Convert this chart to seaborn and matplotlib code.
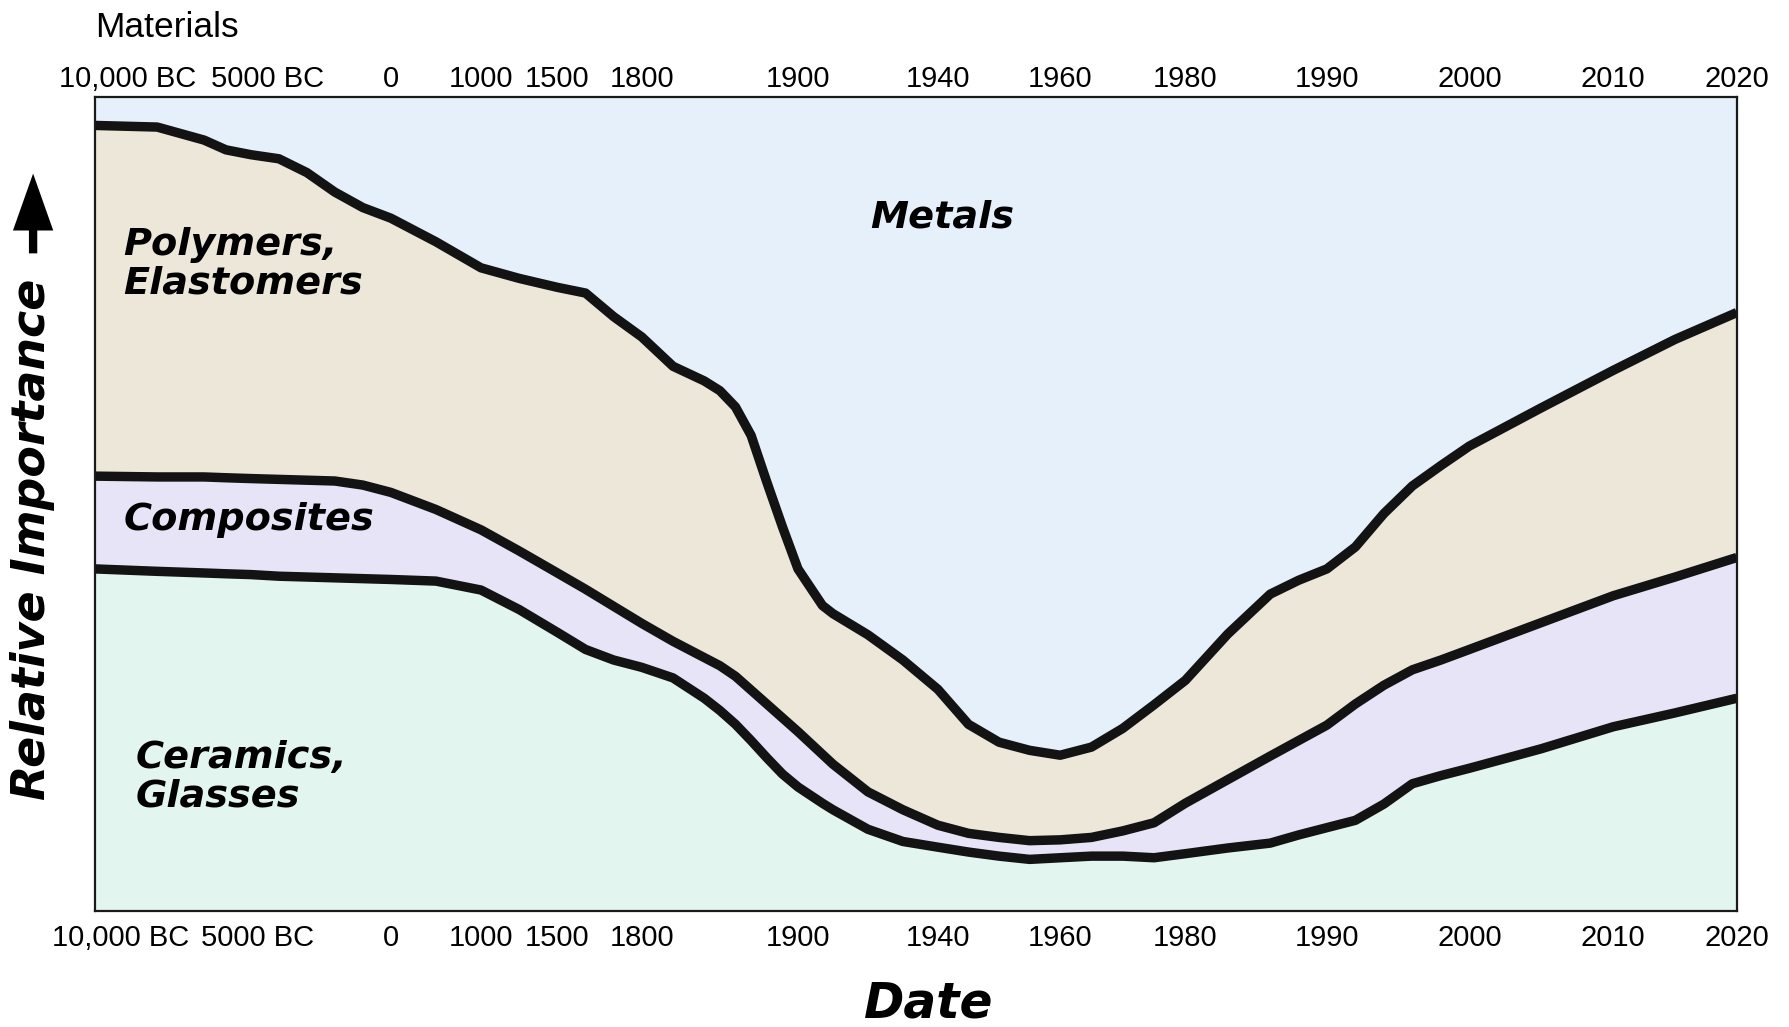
import numpy as np
import matplotlib
matplotlib.use("Agg")
import matplotlib.pyplot as plt
import matplotlib.transforms as mtransforms
import seaborn as sns

# axis: labelled dates and where each one sits along the (non-linear) date axis
tick_years = [-10000, -5000, 0, 1000, 1500, 1800, 1900, 1940, 1960, 1980, 1990, 2000, 2010, 2020]
tick_labels = ['10,000 BC', '5000 BC', '0', '1000', '1500', '1800', '1900',
               '1940', '1960', '1980', '1990', '2000', '2010', '2020']
tick_frac = [0.0, 0.0952, 0.1804, 0.2353, 0.2818, 0.3332, 0.4283,
             0.5135, 0.5880, 0.6642, 0.7504, 0.8372, 0.9248, 1.0]

# relative importance (stacked, 0-100), upper edge of each band
years = [-10000, -8000, -6500, -5800, -5000, -4000, -3000, -2000, -1000, 0,
         500, 1000, 1250, 1500, 1600, 1700, 1800, 1820, 1840, 1850,
         1860, 1870, 1880, 1890, 1900, 1907, 1910, 1920, 1930, 1940,
         1945, 1950, 1955, 1960, 1965, 1970, 1975, 1980, 1983, 1986,
         1988, 1990, 1992, 1994, 1996, 1998, 2000, 2005, 2010, 2015, 2020]

ceramics_top = [42.0, 41.7, 41.5, 41.4, 41.3, 41.1, 41.0, 40.9, 40.8, 40.7,
                40.5, 39.4, 37.0, 34.2, 32.1, 30.8, 29.9, 28.6, 26.1, 24.6,
                22.9, 20.9, 18.8, 16.8, 15.2, 13.2, 12.4, 10.0, 8.5, 7.8,
                7.2, 6.7, 6.3, 6.5, 6.7, 6.7, 6.5, 7.0, 7.7, 8.3,
                9.3, 10.2, 11.1, 13.1, 15.6, 16.6, 17.5, 19.9, 22.6, 24.3, 26.1]

composites_top = [53.4, 53.3, 53.3, 53.2, 53.1, 53.0, 52.9, 52.8, 52.3, 51.4,
                  49.3, 46.8, 44.2, 41.5, 39.5, 37.4, 35.3, 33.1, 31.1, 30.1,
                  28.8, 27.1, 25.4, 23.7, 22.0, 19.2, 18.0, 14.6, 12.4, 10.5,
                  9.5, 9.0, 8.6, 8.7, 9.0, 9.8, 10.8, 13.2, 16.1, 19.0,
                  20.9, 22.8, 25.4, 27.7, 29.6, 30.8, 32.1, 35.4, 38.7, 41.0, 43.4]

polymers_top = [96.5, 96.3, 94.7, 93.5, 92.9, 92.4, 90.7, 88.3, 86.4, 85.1,
                82.2, 79.0, 77.7, 76.6, 75.9, 73.0, 70.5, 66.9, 65.1, 63.9,
                61.9, 58.4, 52.7, 47.2, 42.0, 37.5, 36.5, 33.9, 30.8, 27.2,
                22.9, 20.7, 19.7, 19.1, 20.1, 22.4, 25.3, 28.3, 34.0, 38.9,
                40.6, 42.0, 44.7, 48.8, 52.2, 54.7, 57.1, 61.8, 66.4, 70.2, 73.5]

band_colors = ['#e2f6ef', '#e8e4f8', '#ede7da', '#e5f0fa']

sns.set_theme(style='white')
plt.rcParams['font.family'] = ['DejaVu Sans']
plt.rcParams['text.color'] = 'black'
plt.rcParams['xtick.color'] = 'black'
narrow = ['Liberation Sans', 'DejaVu Sans']

fig = plt.figure(figsize=(17.89, 10.27), dpi=100)
ax = fig.add_axes([0.0529, 0.1133, 0.9179, 0.7923])


def to_axis(x):
    return np.interp(x, tick_years, tick_frac)


def from_axis(p):
    return np.interp(p, tick_frac, tick_years)


ax.set_xscale('function', functions=(to_axis, from_axis))

n = len(years)
edges = [np.zeros(n), np.array(ceramics_top), np.array(composites_top),
         np.array(polymers_top), np.full(n, 100.0)]
for i in range(4):
    ax.fill_between(years, edges[i], edges[i + 1], color=band_colors[i], lw=0, zorder=1)

for edge in [ceramics_top, composites_top, polymers_top]:
    sns.lineplot(x=years, y=edge, ax=ax, color='#131313', lw=6.8, zorder=3,
                 solid_joinstyle='round', solid_capstyle='butt', legend=False)

ax.set_xlim(-10000, 2020)
ax.set_ylim(0, 100)
ax.set_xticks(tick_years)
ax.set_xticklabels(tick_labels)
ax.xaxis.set_minor_locator(matplotlib.ticker.NullLocator())
ax.set_yticks([])
ax.set_xlabel('')
ax.set_ylabel('')
ax.tick_params(axis='x', which='major', direction='in', length=17, width=1.4,
               color='#111111', top=True, labeltop=True, bottom=True, labelbottom=True,
               labelsize=21, pad=2.5, labelcolor='black', labelfontfamily=narrow)
for s in ax.spines.values():
    s.set_linewidth(1.6)
    s.set_color('#1a1a1a')
    s.set_zorder(4)

# push bottom labels down, nudge the two BC labels right like the original
shift_bottom = mtransforms.ScaledTranslation(0, -0.10, fig.dpi_scale_trans)
ticks = ax.xaxis.get_major_ticks()
for i, t in enumerate(ticks):
    dx_top, dx_bot = 0.0, 0.0
    if i == 0:
        dx_top, dx_bot = 0.33, 0.26
    elif i == 1:
        dx_top, dx_bot = 0.17, 0.07
    t.label1.set_transform(t.label1.get_transform() + shift_bottom +
                           mtransforms.ScaledTranslation(dx_bot, 0, fig.dpi_scale_trans))
    t.label2.set_transform(t.label2.get_transform() +
                           mtransforms.ScaledTranslation(dx_top, 0, fig.dpi_scale_trans))

lab = dict(fontsize=27.5, fontweight='bold', fontstyle='italic', color='black',
           transform=ax.transAxes, ha='left', va='baseline', zorder=5)
ax.text(0.4725, 0.8401, 'Metals', **lab)
ax.text(0.0172, 0.8053, 'Polymers,', **lab)
ax.text(0.0172, 0.7582, 'Elastomers', **lab)
ax.text(0.0176, 0.4677, 'Composites', **lab)
ax.text(0.0252, 0.1748, 'Ceramics,', **lab)
ax.text(0.0252, 0.1283, 'Glasses', **lab)

fig.text(0.0529, 0.9640, 'Materials', fontsize=25.5, family=narrow, va='baseline', ha='left')
fig.text(0.5191, 0.009, 'Date', fontsize=35, fontweight='bold', fontstyle='italic',
         ha='center', va='baseline')
fig.text(0.0251, 0.2211, 'Relative Importance', fontsize=33, fontweight='bold',
         fontstyle='italic', rotation=90, rotation_mode='anchor', ha='left', va='baseline')
ax.annotate('', xy=(0.0185, 0.831), xytext=(0.0185, 0.7533),
            xycoords='figure fraction', textcoords='figure fraction',
            arrowprops=dict(arrowstyle='simple,head_length=4.1,head_width=2.9,tail_width=0.6',
                            mutation_scale=10, color='black', lw=0, shrinkA=0, shrinkB=0))

fig.savefig('out.png', dpi=100)
